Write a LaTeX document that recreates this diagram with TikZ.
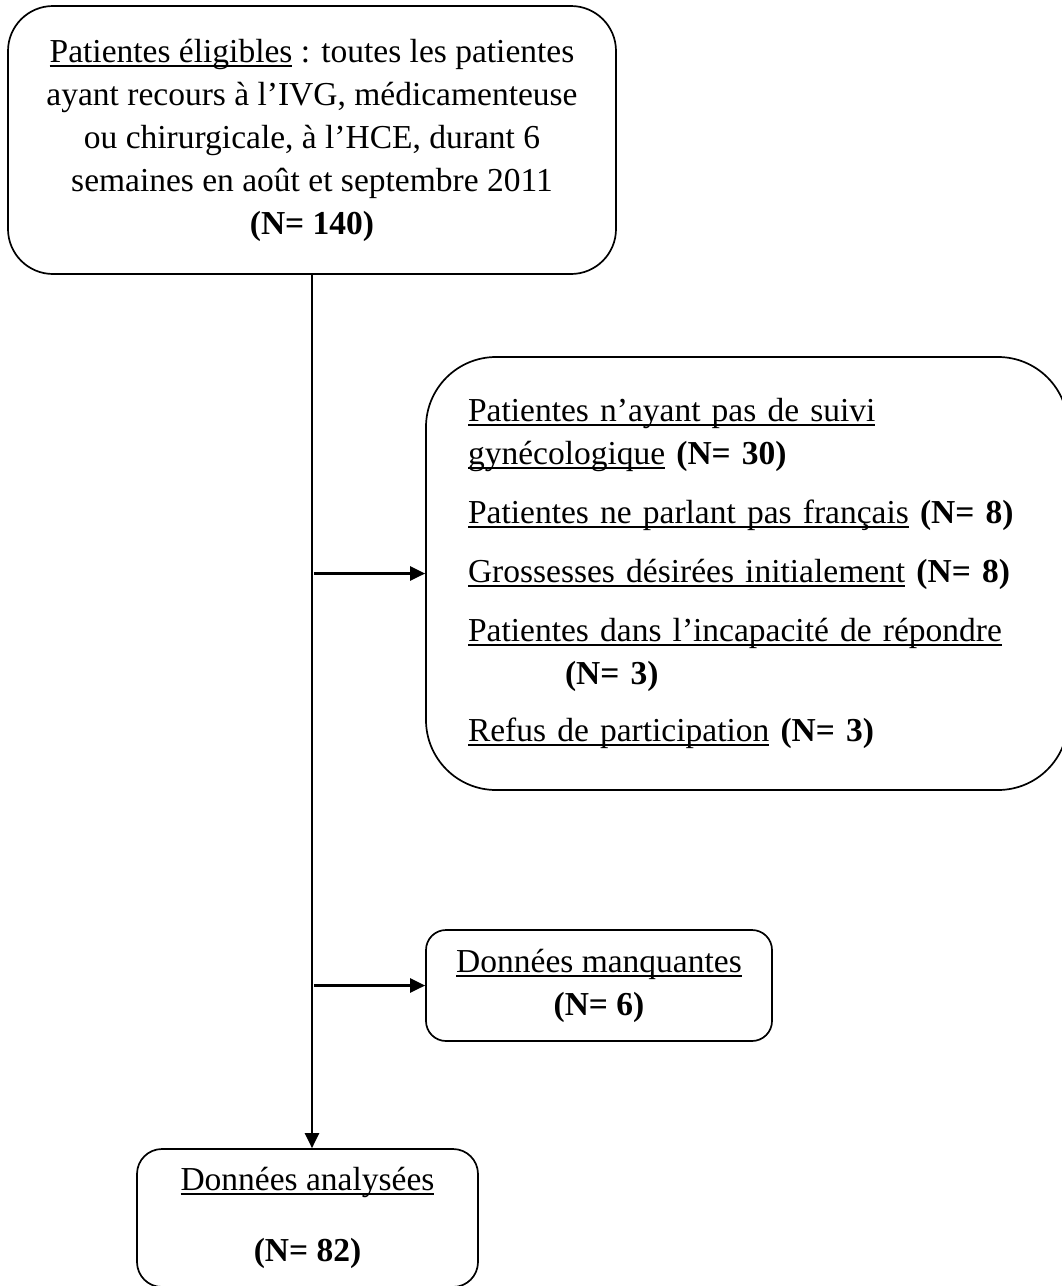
\documentclass[tikz,border=0pt]{standalone}
\usepackage{fontspec}
\setmainfont{Liberation Serif}
\usetikzlibrary{arrows.meta}
\newsavebox{\ulbox}
\newcommand\myul[1]{\leavevmode\sbox{\ulbox}{#1}\rlap{\rule[-4.5pt]{\wd\ulbox}{1.6pt}}\usebox{\ulbox}}
\begin{document}
\begin{tikzpicture}[x=1pt,y=-1pt,
  every node/.style={font=\fontsize{33.5}{43}\selectfont},
  box/.style={draw,line width=1.7pt,align=center,inner sep=0pt},
  conn/.style={line width=2.3pt,-{Triangle[length=15pt,width=14pt]}}]
\useasboundingbox (0,0) rectangle (1062,1286);
\node[box,rounded corners=45pt,minimum width=608pt,minimum height=268pt] (top) at (312,140)
  {\myul{Patientes éligibles} : toutes les patientes\\
   ayant recours à l’IVG, médicamenteuse\\
   ou chirurgicale, à l’HCE, durant 6\\
   semaines en août et septembre 2011\\
   \textbf{(N= 140)}};
\node[box,rounded corners=70pt,minimum width=642pt,minimum height=433pt,
  text width=558pt,align=left] (excl) at (747,573.5)
  {\myul{Patientes n’ayant pas de suivi}\\
   \myul{gynécologique} \textbf{(N= 30)}\\[16pt]
   \myul{Patientes ne parlant pas français} \textbf{(N= 8)}\\[16pt]
   \myul{Grossesses désirées initialement} \textbf{(N= 8)}\\[16pt]
   \myul{Patientes dans l’incapacité de répondre}\\
   \hspace*{97pt}\textbf{(N= 3)}\\[14pt]
   \myul{Refus de participation} \textbf{(N= 3)}};
\node[box,rounded corners=20pt,minimum width=346pt,minimum height=111pt] (miss) at (599,985.5)
  {\myul{Données manquantes}\\ \textbf{(N= 6)}};
\node[box,rounded corners=25pt,minimum width=341pt,minimum height=138pt] (anal) at (307.5,1218)
  {\myul{Données analysées}\\[28pt] \textbf{(N= 82)}};
\coordinate (j1) at (314,573.5);
\coordinate (j2) at (314,985.5);
\draw[conn] (top.south) -- (top.south |- anal.north);
\draw[conn] (j1) -- (j1 -| excl.west);
\draw[conn] (j2) -- (j2 -| miss.west);
\end{tikzpicture}
\end{document}
